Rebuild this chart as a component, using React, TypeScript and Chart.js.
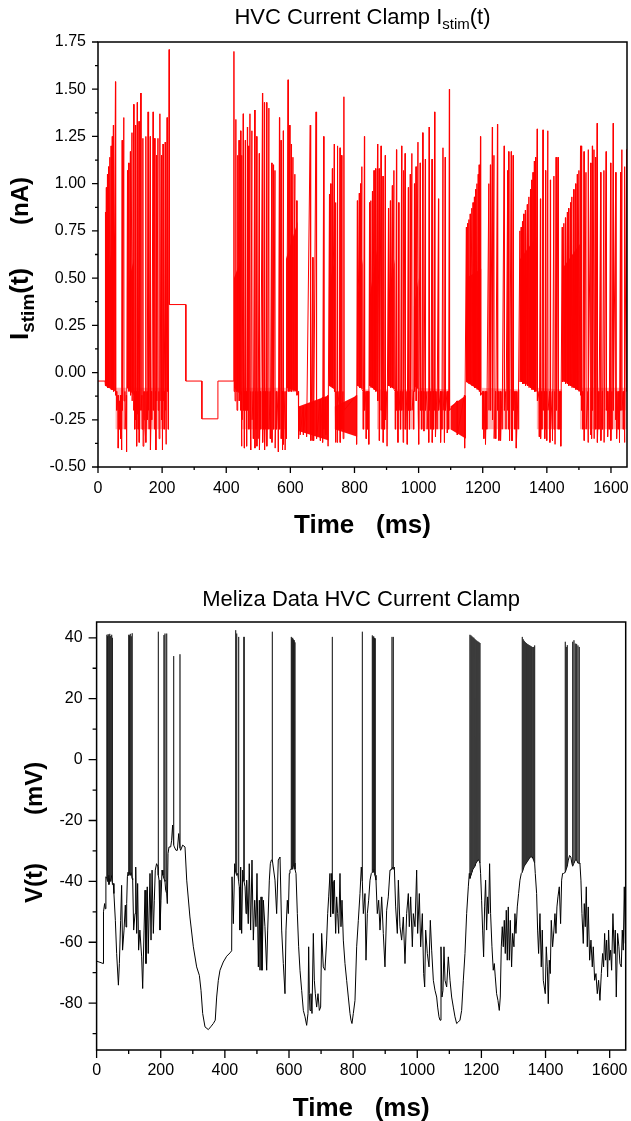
import React, { useEffect, useRef } from "react";
import { Chart, registerables } from "chart.js";

Chart.register(...registerables);

const FONT = '"Liberation Sans", Arial, sans-serif';

// ================= TOP PANEL: I_stim(t) (nA) =================
const stimStepTimes = [0, 22, 222.5, 274, 274, 324, 324, 374, 374, 424];
const stimStepValues = [-0.045, -0.045, 0.36, 0.36, -0.045, -0.045, -0.245, -0.245, -0.045, -0.045];

// [time ms, upper value nA, lower value nA]
const stimSpikes: number[][] = [
  [23, 0.85, -0.07], [26, 0.98, -0.07], [29.5, 1.05, -0.08], [33, 1.09, -0.08], [37, 1.14, -0.08], [41, 1.2, -0.09], [44.5, 1.25, -0.09], [48, 1.31, -0.1], [54.5, 1.54, -0.12],
  [58, -0.1, -0.2], [62.5, -0.12, -0.4], [66, -0.15, -0.3], [70, -0.12, -0.35], [73, -0.12, -0.41],
  [75.5, 1.23, -0.2], [80.5, 1.35, -0.15], [84, -0.1, -0.3], [88.5, -0.12, -0.42],
  [92, 1.07, -0.08], [96, 1.11, -0.1], [101, 1.17, -0.12], [106, 1.27, -0.15], [111.5, 1.42, -0.2], [114, -0.1, -0.3], [117, 1.31, -0.25], [120, -0.1, -0.39], [122.5, 1.43, -0.22], [125, -0.1, -0.3], [128, 1.33, -0.37], [133.5, 1.48, -0.2], [137, -0.12, -0.3], [140, 1.24, -0.39], [143, -0.1, -0.25],
  [146, -0.1, -0.3], [149, 1.25, -0.37], [153, -0.1, -0.25], [156, 1.38, -0.2], [159, -0.1, -0.3], [163, 1.25, -0.41], [167, -0.1, -0.25], [172, 1.38, -0.2], [177, 1.24, -0.3], [180, -0.1, -0.41], [182.5, 1.15, -0.15], [187, 1.24, -0.2], [190, -0.1, -0.35], [193, 1.37, -0.15], [198, 1.15, -0.25], [200.5, -0.1, -0.41], [203, 1.21, -0.15], [206, -0.1, -0.3], [209.5, 1.22, -0.2], [212, -0.1, -0.38], [215.7, 1.35, -0.1], [219, -0.05, -0.3], [222, 1.71, 0.36],
  [424, 1.7, -0.1], [427, -0.05, -0.15], [430, 1.34, -0.1], [433, -0.05, -0.2], [435.5, 1.15, -0.1], [440, 1.23, -0.15], [445, 1.28, -0.2], [447, -0.1, -0.39], [449, 1.15, -0.25], [453, 1.37, -0.2], [456, -0.1, -0.4], [459.5, 1.23, -0.2], [463, -0.1, -0.39], [466, 1.3, -0.2], [470, 1.2, -0.3], [474, 1.37, -0.2], [476, -0.1, -0.41], [480, 1.28, -0.25], [484, -0.1, -0.35], [489, 1.39, -0.4], [492, -0.1, -0.3], [495, 1.25, -0.39], [499, -0.1, -0.35], [503, 1.16, -0.41], [507, -0.1, -0.3], [513, 1.48, -0.37], [516, -0.1, -0.3], [519, 1.43, -0.41], [523, -0.1, -0.3], [526, 1.43, -0.39], [529, -0.1, -0.3], [533, 1.4, -0.3], [537, -0.1, -0.35], [542, 1.11, -0.37], [547, 1.1, -0.3], [552, 1.07, -0.4], [556, -0.1, -0.3], [562, -0.1, -0.42], [566, 1.35, -0.3], [571, 1.23, -0.35], [575, -0.1, -0.41], [578, 1.28, -0.38], [583, -0.1, -0.41], [587, -0.1, -0.35],
  [593, 1.55, -0.1], [598, 1.31, -0.1], [603, 1.21, -0.1], [608, 1.14, -0.1], [614, 1.05, -0.1], [620, 0.91, -0.12], [625, -0.1, -0.35],
  [630, -0.18, -0.33], [640, -0.18, -0.33], [650, -0.17, -0.34], [662, 1.31, -0.36], [664, -0.15, -0.36], [670, 0.61, -0.36], [672, -0.15, -0.36], [680, 1.38, -0.35], [682, -0.15, -0.35], [693, -0.14, -0.36], [700, -0.13, -0.37], [704, 1.25, -0.3], [710, -0.13, -0.33], [717, -0.12, -0.39],
  [722, 0.945, -0.07], [726, 1.0, -0.07], [731, 1.08, -0.08], [737, 1.21, -0.1], [740, -0.1, -0.37], [742, 0.9, -0.2], [745, -0.1, -0.37], [747, 1.2, -0.2], [752, -0.1, -0.3], [755, 1.19, -0.37], [760, 1.15, -0.3], [764, -0.1, -0.35], [767, 1.46, -0.2], [806, -0.12, -0.38],
  [809, 0.91, -0.07], [815, 0.95, -0.08], [819, 1.0, -0.08], [823, 1.09, -0.09], [827, -0.1, -0.3], [831, 1.25, -0.2], [836, -0.1, -0.35], [840, -0.1, -0.3], [844, -0.1, -0.38],
  [847, 0.9, -0.07], [851, 0.91, -0.08], [856, 0.96, -0.08], [861, 1.07, -0.09], [866, 1.08, -0.1], [872, 1.21, -0.15], [877, 1.08, -0.36], [883, 1.2, -0.2], [886, -0.1, -0.3], [889, 1.04, -0.37], [893, -0.1, -0.3], [896, 1.15, -0.25], [901, -0.1, -0.39],
  [906, 0.87, -0.07], [912, 0.91, -0.08], [918, 0.99, -0.08], [923, 1.07, -0.09], [927, -0.1, -0.3], [931, 1.18, -0.2], [935, -0.1, -0.37], [938, 0.9, -0.2], [943, -0.1, -0.3], [947, 1.2, -0.2], [951, -0.1, -0.37], [953, 1.07, -0.2], [958, 1.16, -0.3], [964, -0.1, -0.38], [968, 0.98, -0.2], [971, -0.1, -0.3], [974, 1.05, -0.2], [979, 1.16, -0.2],
  [984, -0.1, -0.3], [987, 1.0, -0.1], [992, 1.09, -0.15], [998, 1.22, -0.2], [1000, -0.1, -0.38], [1005, 1.11, -0.2], [1009, -0.1, -0.3], [1013, 1.27, -0.2], [1016, -0.1, -0.31], [1021, 1.13, -0.2], [1026, -0.1, -0.3], [1031, -0.1, -0.37], [1033, 1.3, -0.2], [1038, -0.1, -0.3], [1042, 1.13, -0.37], [1046, -0.1, -0.3], [1050, 1.38, -0.2], [1052, -0.1, -0.34], [1057, -0.1, -0.3], [1062, 0.92, -0.2], [1068, -0.1, -0.37], [1072, -0.1, -0.3], [1076, 1.19, -0.2], [1080, -0.1, -0.37], [1083, 1.14, -0.2], [1089, -0.1, -0.32], [1093, -0.1, -0.3], [1096, 1.5, -0.2],
  [1120, -0.15, -0.33], [1143, -0.12, -0.4],
  [1149, 0.77, -0.05], [1153, 0.79, -0.05], [1157, 0.81, -0.06], [1161, 0.84, -0.06], [1166, 0.87, -0.07], [1170, 0.9, -0.07], [1174, 0.93, -0.08], [1178, 0.97, -0.08], [1182, 1.0, -0.09], [1186, 1.05, -0.09], [1189, 1.1, -0.1], [1193, 1.25, -0.12],
  [1200, -0.1, -0.3], [1203, -0.1, -0.35], [1208, -0.1, -0.38], [1212, -0.1, -0.3], [1219, 1.0, -0.2], [1224, 1.1, -0.2], [1230, 1.3, -0.25], [1235, 1.15, -0.35], [1240, -0.1, -0.35], [1246, 1.315, -0.2], [1250, -0.1, -0.36], [1255, -0.1, -0.36], [1260, -0.1, -0.3], [1267, 1.2, -0.2], [1272, -0.1, -0.3], [1278, 1.07, -0.2], [1281, 1.17, -0.3], [1283, -0.1, -0.36], [1289, 1.17, -0.36], [1292, -0.1, -0.36], [1295, 1.15, -0.2], [1300, -0.1, -0.3], [1304, -0.1, -0.4], [1310, -0.1, -0.3],
  [1316, 0.75, -0.05], [1320, 0.77, -0.05], [1324, 0.8, -0.06], [1328, 0.84, -0.06], [1333, 0.86, -0.07], [1339, 0.89, -0.07], [1344, 0.93, -0.08], [1349, 0.97, -0.08], [1353, 1.02, -0.09], [1357, 1.06, -0.09], [1361, 1.12, -0.1], [1365, 1.14, -0.1], [1370, 1.29, -0.15],
  [1376, -0.1, -0.34], [1380, 0.92, -0.35], [1384, -0.1, -0.3], [1388, 1.285, -0.2], [1393, -0.1, -0.35], [1396, 1.07, -0.3], [1399, -0.1, -0.36], [1403, 1.28, -0.2], [1409, -0.1, -0.37], [1411, 1.02, -0.3], [1417, -0.1, -0.36], [1422, 1.04, -0.3], [1425, -0.1, -0.38], [1429, 1.14, -0.2], [1435, 1.14, -0.3], [1440, -0.1, -0.3], [1443, -0.1, -0.39],
  [1448, 0.77, -0.05], [1453, 0.79, -0.05], [1458, 0.82, -0.06], [1464, 0.85, -0.06], [1468, 0.87, -0.07], [1474, 0.9, -0.07], [1478, 0.93, -0.08], [1484, 0.97, -0.08], [1490, 1.0, -0.09], [1495, 1.05, -0.09], [1500, 1.07, -0.1], [1505, 1.2, -0.12],
  [1508, 1.2, -0.2], [1512, -0.1, -0.3], [1516, 1.17, -0.36], [1522, 1.06, -0.3], [1528, -0.1, -0.37], [1529, 1.18, -0.2], [1537, 1.11, -0.33], [1539, -0.1, -0.35], [1542, 1.2, -0.2], [1547, 1.18, -0.35], [1552, 1.14, -0.3], [1557, 1.32, -0.37], [1562, -0.1, -0.3], [1568, 1.06, -0.36], [1573, -0.1, -0.3], [1578, 1.07, -0.37], [1585, 1.17, -0.2], [1589, -0.1, -0.34], [1594, -0.1, -0.3], [1599, 1.11, -0.36], [1603, -0.1, -0.3], [1607, 1.32, -0.2], [1615, 1.06, -0.25], [1617, -0.1, -0.35], [1622, -0.1, -0.3], [1626, -0.1, -0.37], [1630, 1.06, -0.2], [1634, 1.18, -0.2], [1638, -0.1, -0.3], [1641, -0.1, -0.37], [1643, 1.09, -0.2], [1649, 1.18, -0.1],
];

// dense oscillation envelopes: [t start, t end, low start, low end, high start, high end]
const stimDenseBands: number[][] = [
  [22, 54, -0.07, -0.1, 0.45, 0.75],
  [90, 112, -0.08, -0.12, 0.45, 0.6],
  [424, 446, -0.08, -0.12, 0.5, 0.6],
  [586, 623, -0.08, -0.1, 0.6, 0.8],
  [720, 738, -0.07, -0.09, 0.45, 0.6],
  [809, 826, -0.07, -0.09, 0.4, 0.6],
  [847, 870, -0.07, -0.1, 0.4, 0.65],
  [906, 926, -0.07, -0.09, 0.4, 0.6],
  [985, 1000, -0.07, -0.09, 0.35, 0.5],
  [1148, 1196, -0.05, -0.1, 0.5, 0.55],
  [1316, 1368, -0.04, -0.1, 0.6, 0.72],
  [1448, 1503, -0.04, -0.1, 0.55, 0.68],
  [625, 720, -0.31, -0.36, -0.18, -0.12],
  [738, 809, -0.3, -0.34, -0.18, -0.12],
  [1099, 1148, -0.3, -0.35, -0.18, -0.12],
];
const stimSparseBands: number[][] = [
  [54, 90, -0.3, -0.3, -0.08, -0.08],
  [112, 222, -0.3, -0.3, -0.08, -0.08],
  [446, 586, -0.3, -0.3, -0.08, -0.08],
  [826, 847, -0.3, -0.3, -0.09, -0.09],
  [870, 906, -0.3, -0.3, -0.09, -0.09],
  [926, 985, -0.3, -0.3, -0.09, -0.09],
  [1000, 1099, -0.3, -0.3, -0.08, -0.09],
  [1196, 1316, -0.3, -0.3, -0.08, -0.09],
  [1368, 1448, -0.3, -0.3, -0.08, -0.09],
  [1503, 1650, -0.3, -0.3, -0.08, -0.08],
];

const stimMajorTicks = [-0.5, -0.25, 0, 0.25, 0.5, 0.75, 1, 1.25, 1.5, 1.75];
const stimMinorTicks = [-0.375, -0.125, 0.125, 0.375, 0.625, 0.875, 1.125, 1.375, 1.625];
const timeMajorTicks = [0, 200, 400, 600, 800, 1000, 1200, 1400, 1600];
const timeMinorTicks = [100, 300, 500, 700, 900, 1100, 1300, 1500];

// ================= BOTTOM PANEL: V(t) (mV) =================
const vmTrace: number[][] = [
  [0, -66.2], [21, -67], [21.5, -50], [25, -47.3], [27, -49], [29, -38.5], [52, -40.7], [54, -44], [58.5, -52.8], [62.5, -63.7], [68, -74.1], [71, -67], [75, -52.8], [78, -41.3], [81, -62.6], [85.5, -56], [89.6, -47.8], [91.7, -55], [93.8, -47.3], [96, -38.5], [98, -37],
  [112.5, -39.6], [115.6, -56], [119.8, -50.6], [122, -35.3], [125, -57.1], [128, -40.7], [131, -62.6], [135, -56], [140.5, -64.8], [143.7, -75.2], [148, -56], [151, -42.9], [154, -67], [158, -41.8], [161, -63.7], [166.5, -37.4], [169.7, -59.3], [173, -36.3], [177, -57.1], [180, -46.2], [183, -36.3], [187, -34.2], [191.5, -35.3], [194.7, -39.6], [197.7, -56], [200.8, -46.2], [204, -36.3], [207, -38], [212, -39.6], [215.4, -42.9], [220.6, -47.3], [222.7, -30.9],
  [225.8, -28.7], [231, -28.7], [234, -26.5], [237, -21.5], [242.4, -28.7], [247.6, -29.8], [251.8, -29.8], [256, -24.3], [262, -29.8], [268.4, -28.1], [275.7, -28.7], [281, -39.6], [291, -51.7], [301.7, -61.5], [312, -68.1], [320.5, -70.9], [325.6, -75.8], [330.8, -83.4], [338, -87.8], [348.4, -88.7], [355.7, -87.8], [364, -86.7], [370, -85.6], [374.4, -78], [379.6, -72.5], [384.8, -69.2], [395, -66.5], [405.6, -64.6], [416, -63.5], [421.2, -62.8], [422.3, -38.5], [426.4, -53.9], [430.6, -34.2],
  [440, -37.4], [445, -41.8], [447, -56], [449.3, -35.3], [452.4, -57.1], [455.5, -36.3], [463, -41.8], [466, -50.6], [468, -39.6], [473, -53.9], [476, -34.2], [480.4, -56], [484.6, -33], [488.8, -59.3], [493, -46.2], [497, -54.9], [500.2, -37.4], [504.4, -68.1], [507.5, -46.2], [509.6, -69.2], [512.7, -45.1], [515.8, -69.2], [520, -46.2], [525, -54.9], [530.4, -69.2], [533.5, -56], [538.7, -39.6], [541.8, -34.2], [545, -33], [550, -33], [556.3, -39.6], [561.5, -50.6], [566.6, -33], [572, -32], [577.1, -56], [582.3, -67], [587.5, -76.9], [590.6, -56], [594.8, -46.2], [597.9, -50.6], [601, -37.4], [603.1, -36.3], [605, -36],
  [621.8, -37.4], [626, -50.6], [630.1, -61.5], [634.3, -69.2], [639.5, -75.8], [644.7, -82.4], [649.9, -84.5], [655.1, -87.3], [659.2, -83.4], [661.3, -61.5], [663.4, -76.9], [665.5, -82.4], [668.6, -76.9], [671.7, -83.4], [675.9, -57.1], [679, -72.5], [682.1, -76.9], [686.2, -81.3], [690.4, -76.9], [694.6, -82.4], [698.7, -81.3], [701.8, -57.1], [707, -68.1], [712.2, -69.2], [717.4, -59.3], [720.6, -50.6], [723.7, -45.1], [727.8, -37.4], [729.9, -51.7], [733, -37.4],
  [737.2, -50.6], [741.3, -39.6], [745.5, -57.1], [748.6, -45.1], [751.7, -50.6], [754.9, -57.1], [759, -37.4], [762.1, -54.9], [765.3, -46.2], [769.4, -59.3], [774.6, -67], [779.8, -72.5], [785, -78], [790.2, -83.4], [793.3, -85.6], [796.4, -86.7], [800.6, -83.4], [805.8, -79.1], [811, -61.5], [816.2, -52.8], [821.4, -44], [825.5, -35.3], [831.8, -50.6], [837, -44], [840.1, -65.9], [844.3, -50.6], [848.4, -46.2], [852.6, -39.6], [856.7, -37.4],
  [871.3, -39.6], [875.4, -50.6], [879.6, -46.2], [883.8, -56], [889, -45.1], [894.1, -57.1], [899.3, -68.1], [904.5, -49.5], [909.7, -45.1], [915, -36.3], [918, -36], [923, -35.3], [928.5, -35.3], [932.6, -48.4], [937.8, -57.1], [941, -39.6], [946.1, -54.9], [951.3, -59.3], [956.5, -51.7], [961.7, -67], [966.9, -50.6], [972.1, -44], [975.2, -54.9], [979.4, -45.1], [984.6, -61.5], [987.7, -50.6], [992.9, -54.9], [998.1, -36.3], [1001.2, -57.1], [1006.4, -44], [1010.6, -61.5], [1015.8, -50.6], [1019.9, -70.3], [1023.1, -74.7], [1026.2, -56], [1031.4, -63.7], [1036.6, -68.1], [1040.7, -52.8], [1044.9, -62.6], [1050.1, -72.5], [1055.3, -75.8], [1060.5, -78],
  [1063.6, -81.3], [1067.7, -84.5], [1070.9, -85.6], [1074, -61.5], [1077.1, -78], [1080.2, -75.8], [1083.3, -61.5], [1086.5, -72.5], [1091.7, -74.7], [1096.8, -64.8], [1102.1, -72.5], [1107.2, -78], [1112.4, -81.3], [1117.6, -84.5], [1122.8, -86.7], [1128, -86.2], [1133.2, -85.6], [1138.4, -82.4], [1143.6, -72.5], [1148.8, -63.7], [1154, -50.6], [1159.2, -41.8], [1162.3, -37.4],
  [1197.5, -37.4], [1200.7, -46.2], [1203.8, -56], [1206.9, -64.8], [1210, -48.4], [1213.1, -39.6], [1216.3, -56], [1219.4, -45.1], [1222.5, -50.6], [1225.6, -34.2], [1228.7, -50.6], [1232.9, -61.5], [1237, -69.2], [1240.2, -67], [1243.3, -71.4], [1247.4, -76.9], [1251.6, -79.1], [1255.8, -82.4], [1258.9, -78], [1262, -61.5], [1265.1, -54.9], [1268.2, -61.5], [1271.4, -52.8], [1274.5, -63.7], [1277.6, -49.5], [1280.7, -65.9], [1283.8, -48.4], [1287, -65.9], [1290.1, -52.8], [1294.2, -68.1], [1297.3, -57.1], [1301.5, -61.5], [1304.6, -50.6], [1307.7, -57.1], [1311.9, -48.4], [1316, -44], [1320.2, -39.6], [1324.4, -37.4],
  [1368, -37.4], [1372.2, -44], [1375.3, -56], [1378.4, -63.7], [1382.6, -50.6], [1386.7, -68.1], [1389.9, -56], [1393, -72.5], [1396.1, -74.7], [1399.2, -76.9], [1402.3, -61.5], [1405.5, -68.1], [1408.6, -80.2], [1411.7, -65.9], [1414.8, -70.3], [1417.9, -52.8], [1422.1, -61.5], [1426.2, -56], [1429.4, -50.6], [1432.5, -57.1], [1435.6, -48.4], [1438.7, -45.1], [1442.9, -41.8], [1447, -53.9], [1450.2, -39.6], [1453.3, -37.4], [1456.4, -37.4],
  [1471, -33], [1475, -31.5], [1479, -32], [1482, -34],
  [1507.3, -34.2], [1510.4, -39.6], [1513.6, -50.6], [1517.7, -60.4], [1520.8, -47.3], [1524, -54.9], [1527.1, -41.8], [1530.2, -61.5], [1533.3, -48.4], [1537.5, -65.9], [1541.6, -59.3], [1545.8, -68.1], [1548.9, -61.5], [1553.1, -72.5], [1557.2, -70.3], [1561.4, -76.9], [1565.5, -72.5], [1569.7, -79.1], [1573.9, -70.3], [1578, -63.7], [1581.1, -68.1], [1584.3, -57.1], [1587.4, -65.9], [1590.5, -59.3], [1593.6, -71.4], [1596.7, -56], [1599.8, -65.9], [1603, -62.6], [1606.1, -69.2], [1610.2, -50.6], [1614.4, -63.7], [1617.5, -56], [1620.6, -78], [1624.8, -57.1], [1628.9, -61.5], [1632, -67], [1636.2, -68.1], [1639.3, -56], [1642.4, -62.6], [1645.6, -41.8], [1648.7, -60.4], [1650, -55],
];

// action potentials: [time ms, peak mV, floor mV]
const vmSpikes: number[][] = [
  [32, 41, -39], [34, 40.5, -40], [36, 41.2, -38], [38.5, 40.8, -41], [41, 41.3, -39], [44, 40.6, -40], [47, 41, -38], [49.5, 40, -41],
  [100, 41, -38], [102.5, 40.8, -37], [105, 41.3, -38], [108, 40.5, -37], [111, 41.5, -39],
  [192.5, 42, -38], [210, 40.9, -39], [213.3, 41.4, -40], [218.5, 41.4, -44],
  [240.3, 34, -28], [260, 34.6, -29],
  [433.7, 42.5, -37], [436.8, 41.4, -38], [443, 40.3, -40], [459.7, 40.3, -40], [548, 42, -33],
  [607.2, 40.3, -36], [609.3, 39.8, -35], [611.4, 40, -36], [613.5, 39.5, -35], [615.6, 39.2, -34], [618.7, 38.5, -36],
  [735.1, 40.3, -40], [828.7, 42, -40],
  [859.8, 40.8, -37], [861.9, 40.3, -36], [864, 40.5, -37], [866.1, 40, -36], [868.2, 39.8, -38],
  [921.2, 40.3, -36], [925.3, 40.3, -36],
  [1164.3, 41, -39], [1167.4, 40.8, -38], [1170.5, 40.5, -37], [1173.6, 40.2, -36], [1176.8, 40, -35.5], [1179.9, 39.6, -35], [1183, 39.3, -34], [1186.1, 39, -33.5], [1189.2, 38.8, -33], [1192.4, 38.6, -33], [1195.5, 38.3, -34],
  [1327.5, 40.3, -37], [1330.6, 39.5, -36], [1333.7, 39, -35], [1336.8, 38.6, -34.5], [1340, 38.3, -34], [1343.1, 38, -33.5], [1346.2, 37.8, -33], [1349.3, 37.6, -32.5], [1352.4, 37.4, -32], [1355.6, 37.2, -32], [1358.7, 37, -32], [1362.8, 37, -33], [1366, 37.5, -34],
  [1461.6, 38.7, -37], [1464.7, 37, -36], [1467.8, 37.6, -35], [1484.5, 38.7, -35], [1488.6, 39.2, -34], [1492.8, 38.1, -33], [1496.9, 38, -33], [1501.1, 37.5, -34], [1505.2, 37, -34],
];

const vmMajorTicks = [-80, -60, -40, -20, 0, 20, 40];
const vmMinorTicks = [-90, -70, -50, -30, -10, 10, 30];

// ================= helpers =================
type Pt = { x: number; y: number } | { x: number; y: null };

function mergeTrace(base: Pt[], events: number[][]): Pt[] {
  const pts: Pt[] = base.slice();
  events.forEach(([t, hi, lo]) => {
    pts.push({ x: t, y: hi });
    pts.push({ x: t + 0.6, y: lo });
  });
  return pts.sort((a, b) => a.x - b.x);
}

// floor points of every action potential, merged into the sub-threshold trace
function mergeFloors(base: Pt[], events: number[][]): Pt[] {
  const pts: Pt[] = base.slice();
  events.forEach(([t, , lo]) => pts.push({ x: t, y: lo }));
  return pts.sort((a, b) => a.x - b.x);
}

// the action potentials themselves, as separate needles
function needles(events: number[][]): Pt[] {
  const pts: Pt[] = [];
  events.forEach(([t, hi, lo]) => {
    pts.push({ x: t - 0.15, y: lo });
    pts.push({ x: t, y: hi });
    pts.push({ x: t + 0.15, y: lo });
    pts.push({ x: t + 0.2, y: null });
  });
  return pts;
}

function bandDatasets(bands: number[][], color: string) {
  const out: any[] = [];
  bands.forEach(([t0, t1, l0, l1, h0, h1]) => {
    out.push({
      data: [{ x: t0, y: l0 }, { x: t1, y: l1 }],
      borderColor: "transparent", borderWidth: 0, pointRadius: 0, fill: false,
    });
    out.push({
      data: [{ x: t0, y: h0 }, { x: t1, y: h1 }],
      borderColor: "transparent", borderWidth: 0, pointRadius: 0, fill: "-1", backgroundColor: color,
    });
  });
  return out;
}

type Spec = {
  yMajor: number[]; yMinor: number[]; fmt: (v: number) => string;
  majorLen: number; minorLen: number; yLabelGap: number; xLabelY: number;
  title: (ctx: CanvasRenderingContext2D, cx: number) => void;
  yTitle: (ctx: CanvasRenderingContext2D) => void;
  xTitleY: number;
};

function axesPlugin(spec: Spec) {
  return {
    id: "originAxes",
    afterDraw(chart: any) {
      const { ctx, chartArea: a, scales } = chart;
      const xs = scales.x, ys = scales.y;
      ctx.save();
      ctx.strokeStyle = "#000";
      ctx.fillStyle = "#000";
      ctx.lineWidth = 1.5;
      ctx.strokeRect(a.left, a.top, a.right - a.left, a.bottom - a.top);
      ctx.lineWidth = 1.3;
      ctx.beginPath();
      spec.yMajor.forEach((v) => { const y = ys.getPixelForValue(v); ctx.moveTo(a.left, y); ctx.lineTo(a.left - spec.majorLen, y); });
      spec.yMinor.forEach((v) => { const y = ys.getPixelForValue(v); ctx.moveTo(a.left, y); ctx.lineTo(a.left - spec.minorLen, y); });
      timeMajorTicks.forEach((v) => { const x = xs.getPixelForValue(v); ctx.moveTo(x, a.bottom); ctx.lineTo(x, a.bottom + spec.majorLen); });
      timeMinorTicks.forEach((v) => { const x = xs.getPixelForValue(v); ctx.moveTo(x, a.bottom); ctx.lineTo(x, a.bottom + spec.minorLen); });
      ctx.stroke();
      ctx.font = `16px ${FONT}`;
      ctx.textAlign = "right";
      ctx.textBaseline = "middle";
      spec.yMajor.forEach((v) => ctx.fillText(spec.fmt(v), a.left - spec.yLabelGap, ys.getPixelForValue(v)));
      ctx.textAlign = "center";
      timeMajorTicks.forEach((v) => ctx.fillText(String(v), xs.getPixelForValue(v), spec.xLabelY));
      ctx.font = `bold 26px ${FONT}`;
      ctx.textBaseline = "alphabetic";
      ctx.fillText("Time   (ms)", (a.left + a.right) / 2, spec.xTitleY);
      ctx.textAlign = "left";
      spec.title(ctx, (a.left + a.right) / 2);
      spec.yTitle(ctx);
      ctx.restore();
    },
  };
}

function drawRun(ctx: CanvasRenderingContext2D, parts: { t: string; f: string; dy: number }[], x: number, y: number) {
  let cx = x;
  parts.forEach((p) => { ctx.font = p.f; ctx.fillText(p.t, cx, y + p.dy); cx += ctx.measureText(p.t).width; });
}
function runWidth(ctx: CanvasRenderingContext2D, parts: { t: string; f: string; dy: number }[]) {
  let w = 0;
  parts.forEach((p) => { ctx.font = p.f; w += ctx.measureText(p.t).width; });
  return w;
}

function baseOptions(padding: any, ymin: number, ymax: number) {
  return {
    animation: false, responsive: false, devicePixelRatio: 1, events: [],
    layout: { padding },
    plugins: { legend: { display: false }, tooltip: { enabled: false }, title: { display: false } },
    scales: {
      x: { type: "linear", min: 0, max: 1650, display: false },
      y: { type: "linear", min: ymin, max: ymax, display: false },
    },
    elements: { point: { radius: 0 }, line: { tension: 0, borderJoinStyle: "bevel" } },
  };
}

function topConfig(): any {
  const steps: Pt[] = stimStepTimes.map((t, i) => ({ x: t, y: stimStepValues[i] }));
  const line = mergeTrace(steps, stimSpikes);
  const title = (ctx: CanvasRenderingContext2D, cx: number) => {
    const parts = [
      { t: "HVC Current Clamp I", f: `22px ${FONT}`, dy: 0 },
      { t: "stim", f: `15px ${FONT}`, dy: 5 },
      { t: "(t)", f: `22px ${FONT}`, dy: 0 },
    ];
    drawRun(ctx, parts, cx - runWidth(ctx, parts) / 2, 24);
  };
  const yTitle = (ctx: CanvasRenderingContext2D) => {
    ctx.save();
    ctx.translate(28, 340);
    ctx.rotate(-Math.PI / 2);
    drawRun(ctx, [
      { t: "I", f: `bold 26px ${FONT}`, dy: 0 },
      { t: "stim", f: `bold 19px ${FONT}`, dy: 6 },
      { t: "(t)", f: `bold 26px ${FONT}`, dy: 0 },
    ], 0, 0);
    ctx.font = `bold 24px ${FONT}`;
    ctx.fillText("(nA)", 115, 0);
    ctx.restore();
  };
  return {
    type: "line",
    data: {
      datasets: [
        { data: line, borderColor: "#ff0000", borderWidth: 1, pointRadius: 0, fill: false },
        ...bandDatasets(stimDenseBands, "rgba(255,0,0,0.95)"),
        ...bandDatasets(stimSparseBands, "rgba(255,0,0,0.3)"),
      ],
    },
    options: baseOptions({ left: 98, right: 4, top: 42, bottom: 93 }, -0.5, 1.75),
    plugins: [axesPlugin({
      yMajor: stimMajorTicks, yMinor: stimMinorTicks, fmt: (v) => v.toFixed(2),
      majorLen: 6, minorLen: 3, yLabelGap: 12, xLabelY: 489, title, yTitle, xTitleY: 533,
    })],
  };
}

function bottomConfig(): any {
  const base: Pt[] = vmTrace.map(([t, v]) => ({ x: t, y: v }));
  const trace = mergeFloors(base, vmSpikes);
  const aps = needles(vmSpikes);
  const title = (ctx: CanvasRenderingContext2D, cx: number) => {
    ctx.font = `22px ${FONT}`;
    ctx.textAlign = "center";
    ctx.fillText("Meliza Data HVC Current Clamp", cx, 46);
    ctx.textAlign = "left";
  };
  const yTitle = (ctx: CanvasRenderingContext2D) => {
    ctx.save();
    ctx.translate(42, 903 - 560);
    ctx.rotate(-Math.PI / 2);
    ctx.font = `bold 24px ${FONT}`;
    ctx.fillText("V(t)", 0, 0);
    ctx.fillText("(mV)", 88, 0);
    ctx.restore();
  };
  return {
    type: "line",
    data: {
      datasets: [
        { data: aps, borderColor: "#1a1a1a", borderWidth: 0.75, pointRadius: 0, fill: false, spanGaps: false },
        { data: trace, borderColor: "#000000", borderWidth: 1, pointRadius: 0, fill: false },
      ],
    },
    options: baseOptions({ left: 96.6, right: 5.3, top: 62, bottom: 71 }, -95.4, 45.2),
    plugins: [axesPlugin({
      yMajor: vmMajorTicks, yMinor: vmMinorTicks, fmt: (v) => String(v),
      majorLen: 8, minorLen: 4, yLabelGap: 14, xLabelY: 511, title, yTitle, xTitleY: 556,
    })],
  };
}

export default function App() {
  const topRef = useRef<HTMLCanvasElement>(null);
  const botRef = useRef<HTMLCanvasElement>(null);
  useEffect(() => {
    const c1 = new Chart(topRef.current as HTMLCanvasElement, topConfig());
    const c2 = new Chart(botRef.current as HTMLCanvasElement, bottomConfig());
    return () => { c1.destroy(); c2.destroy(); };
  }, []);
  return (
    <div style={{ position: "absolute", left: 0, top: 0, width: 631, height: 1121, background: "#fff" }}>
      <canvas ref={topRef} width={631} height={560} style={{ position: "absolute", left: 0, top: 0, width: 631, height: 560 }} />
      <canvas ref={botRef} width={631} height={561} style={{ position: "absolute", left: 0, top: 560, width: 631, height: 561 }} />
    </div>
  );
}
